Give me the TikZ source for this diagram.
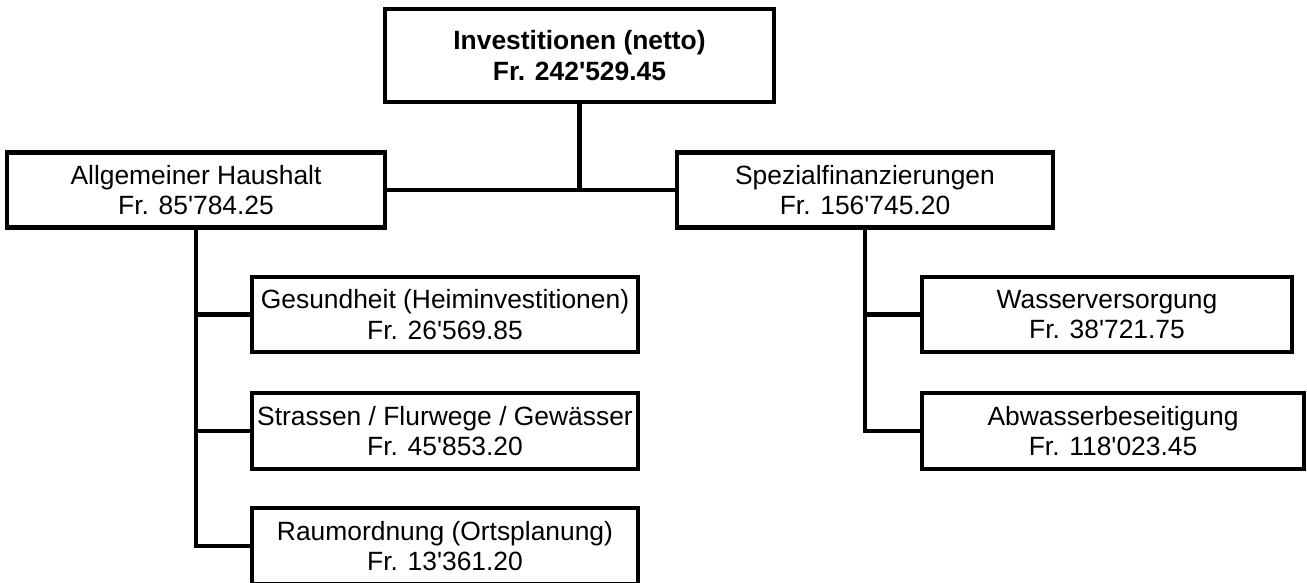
\documentclass[tikz,border=0pt]{standalone}
\usepackage{fontspec}
\setmainfont{Liberation Sans}[Ligatures=TeXOff]
\begin{document}
\begin{tikzpicture}[x=1pt,y=-1pt,
  box/.style={draw=black,line width=4.5pt,inner sep=0pt,align=center,
    font=\fontsize{26.4}{30.5}\selectfont},
  conn/.style={draw=black,line width=4.5pt,line join=miter}]
\useasboundingbox (0,0) rectangle (1307,582);
\node[box,font=\fontsize{26.4}{30.5}\selectfont\bfseries,minimum width=389pt,minimum height=93pt] (top) at (579.5,55.5) {Investitionen (netto)\\Fr. 242'529.45};
\node[box,minimum width=378pt,minimum height=75pt] (allg) at (196,190) {Allgemeiner Haushalt\\Fr. 85'784.25};
\node[box,minimum width=376pt,minimum height=75pt] (spez) at (865,190) {Spezialfinanzierungen\\Fr. 156'745.20};
\node[box,minimum width=386pt,minimum height=75pt] (ges) at (445,314.5) {Gesundheit (Heiminvestitionen)\\Fr. 26'569.85};
\node[box,minimum width=386pt,minimum height=76pt] (str) at (445,431) {Strassen / Flurwege / Gewässer\\Fr. 45'853.20};
\node[box,minimum width=386pt,minimum height=76pt] (raum) at (445,546) {Raumordnung (Ortsplanung)\\Fr. 13'361.20};
\node[box,minimum width=370pt,minimum height=75pt] (wass) at (1107,314.5) {Wasserversorgung\\Fr. 38'721.75};
\node[box,minimum width=382pt,minimum height=76pt] (abw) at (1113,431) {Abwasserbeseitigung\\Fr. 118'023.45};
\draw[conn] (allg.east) -- (spez.west);
\draw[conn] (top.south) -- (top.south |- allg.east);
\draw[conn] (allg.south) |- (raum.west);
\draw[conn] (allg.south |- ges.west) -- (ges.west);
\draw[conn] (allg.south |- str.west) -- (str.west);
\draw[conn] (spez.south) |- (abw.west);
\draw[conn] (spez.south |- wass.west) -- (wass.west);
\end{tikzpicture}
\end{document}
